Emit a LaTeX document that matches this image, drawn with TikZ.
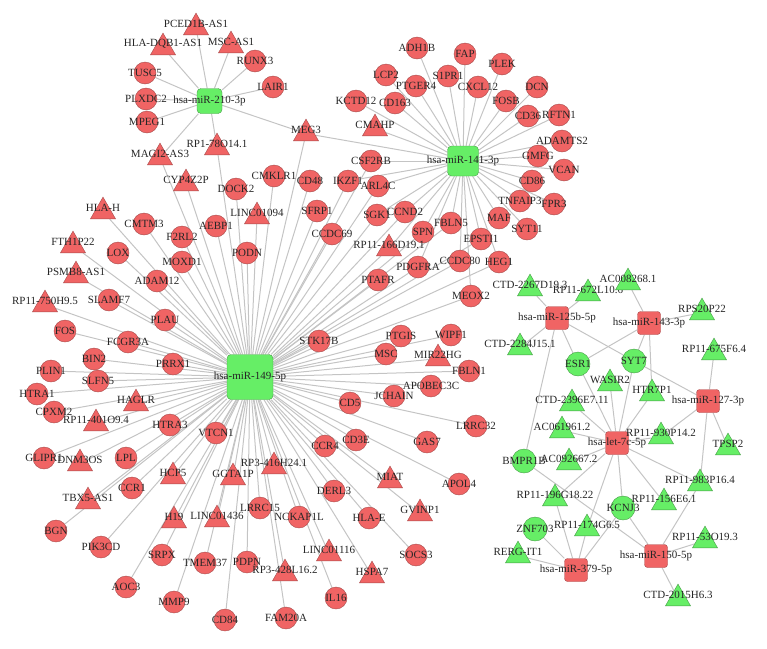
\documentclass[tikz,border=0pt]{standalone}
\usepackage{fontspec}
\setmainfont{Liberation Serif}
\usetikzlibrary{shapes.geometric}

\definecolor{redfill}{RGB}{240,100,100}
\definecolor{redline}{RGB}{165,75,75}
\definecolor{grnfill}{RGB}{102,238,102}
\definecolor{grnline}{RGB}{70,155,70}
\definecolor{edgecol}{RGB}{196,196,196}

\pgfdeclarelayer{bg}
\pgfsetlayers{bg,main}

\tikzset{
  lbl/.style={font=\fontsize{11}{12}\selectfont, text=black!85, inner sep=0pt},
  gene/.style={circle, draw=redline, fill=redfill, minimum size=22pt, inner sep=0pt, label={[lbl]center:#1}},
  ggene/.style={circle, draw=grnline, fill=grnfill, minimum size=24pt, inner sep=0pt, label={[lbl]center:#1}},
  lnc/.style={regular polygon, regular polygon sides=3, draw=redline, fill=redfill, minimum size=29pt, inner sep=0pt, yshift=-3.6pt, label={[lbl,yshift=3.6pt]center:#1}},
  glnc/.style={regular polygon, regular polygon sides=3, draw=grnline, fill=grnfill, minimum size=29pt, inner sep=0pt, yshift=-3.6pt, label={[lbl,yshift=3.6pt]center:#1}},
  hub/.style={rectangle, rounded corners=4pt, draw=grnline, fill=grnfill, inner sep=0pt, label={[lbl]center:#1}},
  mir/.style={rectangle, rounded corners=3pt, draw=redline, fill=redfill, minimum size=23pt, inner sep=0pt, label={[lbl]center:#1}},
  link/.style={draw=edgecol, line width=1pt}
}

\begin{document}
\begin{tikzpicture}[x=1pt,y=-1pt]
\useasboundingbox (0,0) rectangle (767,648);

% hubs
\node[hub=hsa-miR-149-5p, minimum width=46pt, minimum height=45pt] (m149) at (250,377) {};
\node[hub=hsa-miR-210-3p, minimum size=25pt] (m210) at (209.5,101) {};
\node[hub=hsa-miR-141-3p, minimum width=31pt, minimum height=30pt] (m141) at (463,161) {};

% miR-210-3p group
\node[lnc=PCED1B-AS1] (pced1b) at (196,24) {};
\node[lnc=HLA-DQB1-AS1] (hladqb1) at (163,44) {};
\node[lnc=MSC-AS1] (mscas1) at (231,42) {};
\node[gene=RUNX3] (runx3) at (255,61) {};
\node[gene=LAIR1] (lair1) at (273,87) {};
\node[gene=TUSC5] (tusc5) at (145,73) {};
\node[gene=PLXDC2] (plxdc2) at (146,99) {};
\node[gene=MPEG1] (mpeg1) at (147,122) {};
\node[lnc=MAGI2-AS3] (magi2) at (160,154) {};
\node[lnc=RP1-78O14.1] (rp178) at (217,144) {};
\node[lnc=MEG3] (meg3) at (306,130) {};
\node[lnc=CYP4Z2P] (cyp4z2p) at (186,180) {};

% miR-141-3p group
\node[gene=ADH1B] (adh1b) at (417,48) {};
\node[gene=FAP] (fap) at (465,54) {};
\node[gene=PLEK] (plek) at (502,64) {};
\node[gene=LCP2] (lcp2) at (386,75) {};
\node[gene=S1PR1] (s1pr1) at (448,76) {};
\node[gene=PTGER4] (ptger4) at (416,86) {};
\node[gene=CXCL12] (cxcl12) at (478,87) {};
\node[gene=DCN] (dcn) at (537,87) {};
\node[gene=CD163] (cd163) at (395,103) {};
\node[gene=FOSB] (fosb) at (506,101) {};
\node[gene=KCTD12] (kctd12) at (356,101) {};
\node[gene=CD36] (cd36) at (528,116) {};
\node[gene=RFTN1] (rftn1) at (559,115) {};
\node[lnc=CMAHP] (cmahp) at (375,125) {};
\node[gene=ADAMTS2] (adamts2) at (562,141) {};
\node[gene=GMFG] (gmfg) at (538,156) {};
\node[gene=VCAN] (vcan) at (564,170) {};
\node[gene=CD86] (cd86) at (532,181) {};
\node[gene=TNFAIP3] (tnfaip3) at (520,201) {};
\node[gene=FPR3] (fpr3) at (554,204) {};
\node[gene=MAF] (maf) at (499,218) {};
\node[gene=SYT11] (syt11) at (527,229) {};

% between the two hubs
\node[gene=CSF2RB] (csf2rb) at (371,161) {};
\node[gene=CMKLR1] (cmklr1) at (274,176) {};
\node[gene=CD48] (cd48) at (310,181) {};
\node[gene=IKZF1] (ikzf1) at (348,181) {};
\node[gene=ARL4C] (arl4c) at (378,186) {};
\node[gene=DOCK2] (dock2) at (236,189) {};
\node[gene=SFRP1] (sfrp1) at (317,211) {};
\node[lnc=LINC01094] (linc01094) at (257,213) {};
\node[gene=SGK1] (sgk1) at (377,215) {};
\node[gene=CCND2] (ccnd2) at (405,212) {};
\node[gene=FBLN5] (fbln5) at (451,223) {};
\node[gene=AEBP1] (aebp1) at (216,226) {};
\node[gene=SPN] (spn) at (423,232) {};
\node[gene=CCDC69] (ccdc69) at (332,234) {};
\node[gene=EPSTI1] (epsti1) at (481,239) {};
\node[lnc=RP11-166D19.1] (rp166) at (389,245) {};
\node[gene=PODN] (podn) at (247,253) {};
\node[gene=CCDC80] (ccdc80) at (460,261) {};
\node[gene=HEG1] (heg1) at (499,262) {};
\node[gene=PDGFRA] (pdgfra) at (418,267) {};
\node[gene=PTAFR] (ptafr) at (378,280) {};
\node[gene=MEOX2] (meox2) at (471,296) {};

% left of miR-149-5p
\node[lnc=HLA-H] (hlah) at (103,208) {};
\node[gene=CMTM3] (cmtm3) at (144,224) {};
\node[gene=F2RL2] (f2rl2) at (182,237) {};
\node[lnc=FTH1P22] (fth1p22) at (73,242) {};
\node[gene=LOX] (lox) at (118,253) {};
\node[gene=MOXD1] (moxd1) at (182,262) {};
\node[lnc=PSMB8-AS1] (psmb8) at (76,272) {};
\node[gene=ADAM12] (adam12) at (157,281) {};
\node[lnc=RP11-750H9.5] (rp750) at (45,301) {};
\node[gene=SLAMF7] (slamf7) at (109,300) {};
\node[gene=PLAU] (plau) at (165,320) {};
\node[gene=FOS] (fos) at (65,331) {};
\node[gene=FCGR3A] (fcgr3a) at (128,342) {};
\node[gene=BIN2] (bin2) at (94,359) {};
\node[gene=PRRX1] (prrx1) at (173,364) {};
\node[gene=PLIN1] (plin1) at (51,371) {};
\node[gene=SLFN5] (slfn5) at (98,381) {};
\node[gene=HTRA1] (htra1) at (37,394) {};
\node[lnc=HAGLR] (haglr) at (136,400) {};
\node[gene=CPXM2] (cpxm2) at (54,412) {};
\node[lnc=RP11-401O9.4] (rp401) at (96,420) {};
\node[gene=HTRA3] (htra3) at (170,425) {};
\node[gene=VTCN1] (vtcn1) at (216,433) {};
\node[gene=GLIPR1] (glipr1) at (44,458) {};
\node[lnc=DNM3OS] (dnm3os) at (80,460) {};
\node[gene=LPL] (lpl) at (126,458) {};
\node[lnc=HCP5] (hcp5) at (173,473) {};
\node[lnc=GGTA1P] (ggta1p) at (233,474) {};
\node[gene=CCR1] (ccr1) at (132,488) {};
\node[lnc=TBX5-AS1] (tbx5) at (88,498) {};
\node[lnc=H19] (h19) at (174,517) {};
\node[lnc=LINC01436] (linc01436) at (217,516) {};
\node[gene=BGN] (bgn) at (56,531) {};
\node[gene=PIK3CD] (pik3cd) at (101,547) {};
\node[gene=SRPX] (srpx) at (162,555) {};
\node[gene=TMEM37] (tmem37) at (205,563) {};
\node[gene=PDPN] (pdpn) at (247,562) {};
\node[gene=AOC3] (aoc3) at (126,587) {};
\node[gene=MMP9] (mmp9) at (174,602) {};
\node[gene=CD84] (cd84) at (225,620) {};

% right and below miR-149-5p
\node[gene=STK17B] (stk17b) at (319,341) {};
\node[gene=PTGIS] (ptgis) at (401,336) {};
\node[gene=WIPF1] (wipf1) at (451,335) {};
\node[gene=MSC] (msc) at (386,354) {};
\node[lnc=MIR22HG] (mir22hg) at (438,355) {};
\node[gene=FBLN1] (fbln1) at (469,371) {};
\node[gene=APOBEC3C] (apobec3c) at (431,386) {};
\node[gene=JCHAIN] (jchain) at (394,396) {};
\node[gene=CD5] (cd5) at (350,403) {};
\node[gene=LRRC32] (lrrc32) at (476,426) {};
\node[gene=CD3E] (cd3e) at (356,440) {};
\node[gene=CCR4] (ccr4) at (325,446) {};
\node[gene=GAS7] (gas7) at (427,442) {};
\node[lnc=RP3-416H24.1] (rp3416) at (274,463) {};
\node[lnc=MIAT] (miat) at (390,477) {};
\node[gene=APOL4] (apol4) at (459,484) {};
\node[gene=DERL3] (derl3) at (334,491) {};
\node[gene=LRRC15] (lrrc15) at (260,508) {};
\node[gene=NCKAP1L] (nckap1l) at (299,517) {};
\node[gene=HLA-E] (hlae) at (369,518) {};
\node[lnc=GVINP1] (gvinp1) at (420,510) {};
\node[lnc=LINC01116] (linc01116) at (329,550) {};
\node[gene=SOCS3] (socs3) at (416,555) {};
\node[lnc=RP3-428L16.2] (rp3428) at (285,570) {};
\node[lnc=HSPA7] (hspa7) at (372,572) {};
\node[gene=IL16] (il16) at (336,598) {};
\node[gene=FAM20A] (fam20a) at (286,618) {};

% small network on the right
\node[mir=hsa-miR-125b-5p] (m125b) at (557,318) {};
\node[mir=hsa-miR-143-3p] (m143) at (649,323) {};
\node[mir=hsa-miR-127-3p] (m127) at (708,401) {};
\node[mir=hsa-let-7c-5p] (let7c) at (617,443) {};
\node[mir=hsa-miR-379-5p] (m379) at (576,570) {};
\node[mir=hsa-miR-150-5p] (m150) at (656,556) {};

\node[ggene=ESR1] (esr1) at (578,364) {};
\node[ggene=SYT7] (syt7) at (634,361) {};
\node[ggene=BMPR1B] (bmpr1b) at (524,461) {};
\node[ggene=KCNJ3] (kcnj3) at (623,508) {};
\node[ggene=ZNF703] (znf703) at (535,529) {};

\node[glnc=CTD-2267D19.3] (ctd2267) at (530,285) {};
\node[glnc=RP11-672L10.6] (rp672) at (588,290) {};
\node[glnc=AC008268.1] (ac008) at (628,279) {};
\node[glnc=RPS20P22] (rps20) at (702,309) {};
\node[glnc=CTD-2284J15.1] (ctd2284) at (520,344) {};
\node[glnc=RP11-675F6.4] (rp675) at (714,349) {};
\node[glnc=WASIR2] (wasir2) at (610,380) {};
\node[glnc=HTR7P1] (htr7p1) at (652,390) {};
\node[glnc=CTD-2396E7.11] (ctd2396) at (572,400) {};
\node[glnc=AC061961.2] (ac061) at (562,427) {};
\node[glnc=RP11-930P14.2] (rp930) at (661,433) {};
\node[glnc=TPSP2] (tpsp2) at (728,444) {};
\node[glnc=AC092667.2] (ac092) at (569,459) {};
\node[glnc=RP11-983P16.4] (rp983) at (700,480) {};
\node[glnc=RP11-196G18.22] (rp196) at (555,495) {};
\node[glnc=RP11-156E6.1] (rp156) at (664,499) {};
\node[glnc=RP11-174G6.5] (rp174) at (587,525) {};
\node[glnc=RP11-53O19.3] (rp53) at (705,537) {};
\node[glnc=RERG-IT1] (rerg) at (518,552) {};
\node[glnc=CTD-2015H6.3] (ctd2015) at (678,595) {};

% connectors behind the nodes
\begin{pgfonlayer}{bg}
\foreach \t in {pced1b,hladqb1,mscas1,runx3,lair1,tusc5,plxdc2,mpeg1,magi2,rp178,meg3}
  \draw[link] (m210) -- (\t);
\foreach \t in {adh1b,fap,plek,lcp2,s1pr1,ptger4,cxcl12,dcn,cd163,fosb,kctd12,cd36,rftn1,
  adamts2,gmfg,vcan,cd86,tnfaip3,fpr3,maf,syt11,cmahp,meg3,csf2rb,ikzf1,arl4c,sgk1,ccnd2,
  spn,fbln5,epsti1,ccdc80,meox2,heg1,rp166,pdgfra}
  \draw[link] (m141) -- (\t);
\foreach \t in {hlah,cmtm3,fth1p22,lox,f2rl2,moxd1,psmb8,adam12,rp750,slamf7,plau,fos,fcgr3a,
  bin2,prrx1,plin1,slfn5,htra1,haglr,cpxm2,rp401,htra3,vtcn1,glipr1,dnm3os,lpl,hcp5,ggta1p,
  ccr1,tbx5,h19,linc01436,bgn,pik3cd,srpx,tmem37,pdpn,aoc3,mmp9,cd84,rp3416,lrrc15,nckap1l,
  rp3428,fam20a,linc01116,il16,derl3,hlae,hspa7,ccr4,cd3e,miat,gvinp1,socs3,cd5,gas7,apol4,
  jchain,apobec3c,lrrc32,fbln1,msc,mir22hg,ptgis,wipf1,stk17b,meox2,ccdc80,heg1,epsti1,
  pdgfra,ptafr,rp166,spn,fbln5,ccnd2,sgk1,arl4c,ikzf1,csf2rb,ccdc69,sfrp1,cd48,cmklr1,
  linc01094,podn,dock2,aebp1,cyp4z2p,magi2,rp178,meg3}
  \draw[link] (m149) -- (\t);
\foreach \t in {ctd2267,rp672,ctd2284,esr1,syt7,bmpr1b}
  \draw[link] (m125b) -- (\t);
\foreach \t in {ac008,rps20,esr1,syt7,htr7p1}
  \draw[link] (m143) -- (\t);
\foreach \t in {rp675,syt7,rp930,tpsp2,rp983}
  \draw[link] (m127) -- (\t);
\foreach \t in {esr1,wasir2,syt7,htr7p1,ctd2396,ac061,rp930,ac092,rp196,rp174,kcnj3,rp156,rp983}
  \draw[link] (let7c) -- (\t);
\foreach \t in {kcnj3,rp983,rp53,ctd2015,bmpr1b}
  \draw[link] (m150) -- (\t);
\foreach \t in {kcnj3,znf703,rerg,rp196,rp174}
  \draw[link] (m379) -- (\t);
\end{pgfonlayer}

\end{tikzpicture}
\end{document}
